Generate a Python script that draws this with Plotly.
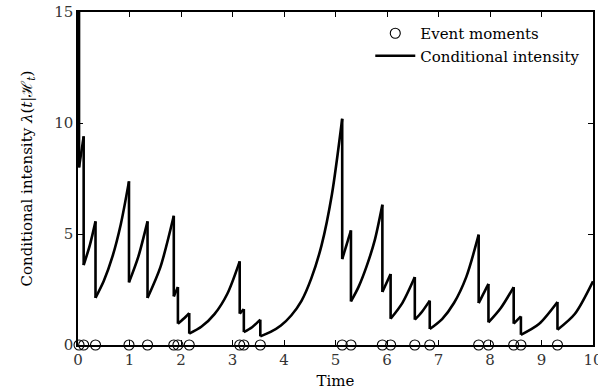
import plotly.graph_objects as go

# ---- data ----
event_times = [0.02, 0.11, 0.34, 0.99, 1.35, 1.86, 1.94, 2.16, 3.14, 3.22, 3.54,
               5.13, 5.30, 5.91, 6.07, 6.54, 6.83, 7.78, 7.97, 8.46, 8.60, 9.31]
# intensity just before each event (peak) and just after (trough)
peak_values = [20.8, 9.4, 5.57, 7.37, 5.57, 5.82, 2.61, 1.44, 3.77, 1.62, 1.14,
               10.19, 5.16, 6.32, 3.2, 3.06, 2.0, 4.97, 2.75, 2.61, 1.29, 1.94]
trough_values = [8.0, 3.6, 2.12, 2.82, 2.12, 2.19, 0.96, 0.51, 1.41, 0.58, 0.39,
                 3.87, 1.96, 2.39, 1.18, 1.14, 0.72, 1.89, 1.02, 0.96, 0.46, 0.69]

# curve samples between events (one list per inter-event segment)
segment_t = [
    [0.0, 0.02],
    [0.02, 0.11],
    [0.11, 0.23, 0.34],
    [0.34, 0.5, 0.67, 0.83, 0.99],
    [0.99, 1.17, 1.35],
    [1.35, 1.6, 1.86],
    [1.86, 1.94],
    [1.94, 2.05, 2.16],
    [2.16, 2.4, 2.65, 2.9, 3.14],
    [3.14, 3.22],
    [3.22, 3.38, 3.54],
    [3.54, 3.74, 3.94, 4.14, 4.34, 4.53, 4.73, 4.93, 5.13],
    [5.13, 5.3],
    [5.3, 5.45, 5.6, 5.76, 5.91],
    [5.91, 6.07],
    [6.07, 6.3, 6.54],
    [6.54, 6.68, 6.83],
    [6.83, 7.07, 7.3, 7.54, 7.78],
    [7.78, 7.97],
    [7.97, 8.21, 8.46],
    [8.46, 8.6],
    [8.6, 8.95, 9.31],
    [9.31, 9.65, 10.0],
]
segment_v = [
    [20.0, 20.8],
    [8.0, 9.4],
    [3.6, 4.5, 5.57],
    [2.12, 2.88, 3.99, 5.43, 7.37],
    [2.82, 3.97, 5.57],
    [2.12, 3.51, 5.82],
    [2.19, 2.61],
    [0.96, 1.18, 1.44],
    [0.51, 0.83, 1.39, 2.31, 3.77],
    [1.41, 1.62],
    [0.58, 0.8, 1.14],
    [0.39, 0.59, 0.88, 1.33, 1.99, 3.0, 4.5, 6.78, 10.19],
    [3.87, 5.16],
    [1.96, 2.63, 3.52, 4.7, 6.32],
    [2.39, 3.2],
    [1.18, 1.9, 3.06],
    [1.14, 1.5, 2.0],
    [0.72, 1.17, 1.89, 3.07, 4.97],
    [1.89, 2.75],
    [1.02, 1.67, 2.61],
    [0.96, 1.29],
    [0.46, 0.945, 1.94],
    [0.69, 1.41, 2.87],
]

x_ticks = [0, 1, 2, 3, 4, 5, 6, 7, 8, 9, 10]
y_ticks = [0, 5, 10, 15]

# ---- build traces ----
curve_x, curve_y = [], []
for ts, vs in zip(segment_t, segment_v):
    curve_x += ts + [None]
    curve_y += vs + [None]

drop_x, drop_y = [], []
for t, p, q in zip(event_times, peak_values, trough_values):
    drop_x += [t, t, None]
    drop_y += [p, q, None]

FONT = "DejaVu Serif, Liberation Serif, serif"
FS = 15
LW = 2.6

fig = go.Figure()
fig.add_trace(go.Scatter(
    x=drop_x, y=drop_y, mode="lines", showlegend=False,
    line=dict(color="black", width=LW), hoverinfo="skip"))
fig.add_trace(go.Scatter(
    x=curve_x, y=curve_y, mode="lines", name="Conditional intensity",
    line=dict(color="black", width=LW, shape="spline", smoothing=0.8),
    legendrank=2))
fig.add_trace(go.Scatter(
    x=event_times, y=[0] * len(event_times), mode="markers",
    name="Event moments", cliponaxis=False,
    marker=dict(symbol="circle-open", size=10, color="black",
                line=dict(width=1.1, color="black")),
    legendrank=1))

axis_common = dict(
    showgrid=False, zeroline=False, showline=True, linecolor="black",
    linewidth=1.5, mirror="ticks", ticks="inside", ticklen=5,
    tickwidth=1, tickcolor="black", automargin=False,
    tickfont=dict(family=FONT, size=FS, color="#333"),
)

fig.update_layout(
    width=598, height=392,
    margin=dict(l=78, r=5, t=12, b=47, autoexpand=False),
    paper_bgcolor="white", plot_bgcolor="white",
    font=dict(family=FONT, size=FS, color="black"),
    xaxis=dict(range=[0, 10], tickvals=x_ticks, ticklabeloverflow="allow",
               **axis_common,
               title=dict(text="Time", standoff=8,
                          font=dict(family=FONT, size=FS))),
    yaxis=dict(range=[0, 15], tickvals=y_ticks, **axis_common,
               title=dict(text="Conditional intensity <i>λ</i>(<i>t</i>|ℋ<sub><i>t</i></sub>)",
                          standoff=18, font=dict(family=FONT, size=FS))),
    legend=dict(x=0.985, y=0.985, xanchor="right", yanchor="top",
                bgcolor="rgba(0,0,0,0)", borderwidth=0,
                font=dict(family=FONT, size=FS), itemwidth=40,
                tracegroupgap=0),
)

fig.write_html("out.html")
